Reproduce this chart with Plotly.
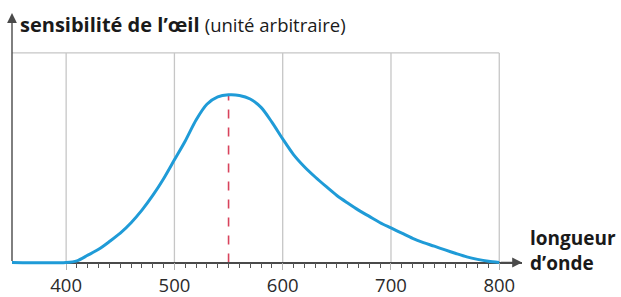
import plotly.graph_objects as go

# ---- data ----
wavelength = [350, 400, 410, 420, 430, 440, 450, 460, 470, 480, 490, 500, 510, 520,
              530, 540, 550, 560, 570, 580, 590, 600, 610, 620, 630, 640, 650, 660,
              670, 680, 690, 700, 710, 720, 730, 740, 750, 760, 770, 780, 790, 800]
sensitivity = [0.0, 0.0, 0.008, 0.035, 0.063, 0.10, 0.14, 0.19, 0.25, 0.32, 0.40, 0.49,
               0.58, 0.68, 0.755, 0.79, 0.80, 0.797, 0.78, 0.74, 0.67, 0.59, 0.515,
               0.457, 0.408, 0.363, 0.32, 0.284, 0.25, 0.22, 0.19, 0.165, 0.14, 0.115,
               0.095, 0.078, 0.06, 0.043, 0.027, 0.015, 0.006, 0.0]
major_ticks = [400, 500, 600, 700, 800]
tick_labels = ["400", "500", "600", "700", "800"]
minor_ticks = [t for t in range(410, 800, 10) if t not in major_ticks]

X_RANGE = [350, 821]
Y_RANGE = [-0.05, 1.20]

FONT = "Open Sans"
BLUE = "#1f9bd7"
RED = "#d8435c"
GRID = "#c6c6c6"
AXIS = "#4a4a4a"

fig = go.Figure()

# gridlines (vertical at major ticks) and top border
for t in major_ticks:
    fig.add_shape(type="line", x0=t, x1=t, y0=0, y1=1, xref="x", yref="y",
                  line=dict(color=GRID, width=1.3), layer="below")
fig.add_shape(type="line", x0=wavelength[0], x1=major_ticks[-1], y0=1, y1=1,
              xref="x", yref="y", line=dict(color=GRID, width=1.3), layer="below")

# dashed line at maximum
peak_i = max(range(len(sensitivity)), key=lambda i: sensitivity[i])
fig.add_shape(type="line", x0=wavelength[peak_i], x1=wavelength[peak_i], y0=0,
              y1=sensitivity[peak_i], xref="x", yref="y",
              line=dict(color=RED, width=1.6, dash="dash"), layer="below")

fig.add_trace(go.Scatter(x=wavelength, y=sensitivity, mode="lines",
                         line=dict(color=BLUE, width=3, shape="spline", smoothing=0.8),
                         hoverinfo="skip", showlegend=False))

# axis arrows
fig.add_annotation(x=X_RANGE[1], y=0, ax=major_ticks[-1], ay=0, xref="x", yref="y",
                   axref="x", ayref="y", showarrow=True, arrowhead=2, arrowsize=1.4,
                   arrowwidth=1.4, arrowcolor=AXIS, text="")
fig.add_annotation(x=wavelength[0], y=1.19, ax=wavelength[0], ay=0, xref="x", yref="y",
                   axref="x", ayref="y", showarrow=True, arrowhead=2, arrowsize=1.4,
                   arrowwidth=1.4, arrowcolor=AXIS, text="")

# titles
fig.add_annotation(x=0.0118, y=0.948, xref="paper", yref="paper", xanchor="left",
                   yanchor="middle", showarrow=False,
                   text="<b>sensibilité de l’œil</b> <span style='font-size:18.5px'>(unité arbitraire)</span>",
                   font=dict(family=FONT, size=20, color="#1a1a1a"))
fig.add_annotation(x=1.0118, y=0.084, xref="paper", yref="paper", xanchor="left",
                   yanchor="middle", showarrow=False, align="left",
                   text="<b>longueur<br>d’onde</b>",
                   font=dict(family=FONT, size=19, color="#1a1a1a"))

fig.update_layout(
    width=621, height=297,
    margin=dict(l=12, r=99, t=11, b=24),
    paper_bgcolor="white", plot_bgcolor="white",
    xaxis=dict(range=X_RANGE, anchor="free",
               position=(0 - Y_RANGE[0]) / (Y_RANGE[1] - Y_RANGE[0]),
               showline=True, linecolor=AXIS, linewidth=1.5, layer="below traces",
               showgrid=False, zeroline=False,
               tickmode="array", tickvals=major_ticks, ticktext=tick_labels,
               ticks="outside", ticklen=7, tickwidth=1.3, tickcolor="#b0b0b0",
               tickfont=dict(family=FONT, size=18.5, color="#2b2b2b"),
               minor=dict(tickmode="array", tickvals=minor_ticks, ticks="outside",
                          ticklen=5, tickwidth=1, tickcolor="#555555", showgrid=False),
               automargin=False, fixedrange=True),
    yaxis=dict(range=Y_RANGE, visible=False, fixedrange=True, automargin=False),
)

fig.write_html("out.html", config={"displayModeBar": False},
               post_script="document.body.style.margin='0';")
